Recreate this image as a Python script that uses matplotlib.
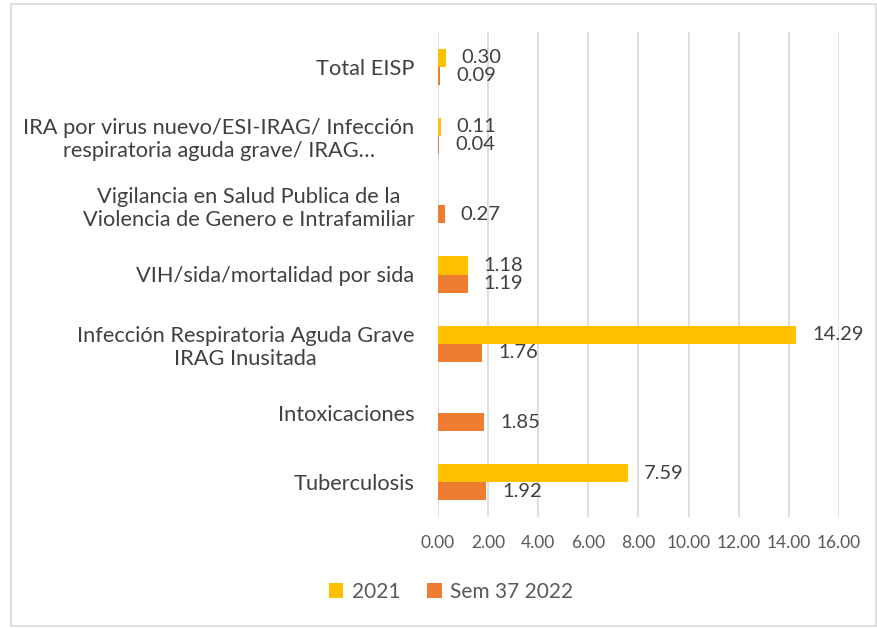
import numpy as np
import matplotlib
matplotlib.use("Agg")
import matplotlib.pyplot as plt
from matplotlib.patches import Rectangle

plt.rcParams['font.family'] = ['Lato', 'DejaVu Sans']

categories = [
    "Tuberculosis",
    "Intoxicaciones",
    "Infección Respiratoria Aguda Grave\nIRAG Inusitada",
    "VIH/sida/mortalidad por sida",
    "Vigilancia en Salud Publica de la\nViolencia de Genero e Intrafamiliar",
    "IRA por virus nuevo/ESI-IRAG/ Infección\nrespiratoria aguda grave/ IRAG…",
    "Total EISP",
]
series_names = ["2021", "Sem 37 2022"]
values_2021 = [7.59, np.nan, 14.29, 1.18, np.nan, 0.11, 0.30]
values_2022 = [1.92, 1.85, 1.76, 1.19, 0.27, 0.04, 0.09]
xticks = [0, 2, 4, 6, 8, 10, 12, 14, 16]

c2021 = "#FFC000"
c2022 = "#ED7D31"
txt = "#595959"

fig = plt.figure(figsize=(8.78, 6.28), dpi=100)
ax = fig.add_axes([438/878, 1-517/628, (839-438)/878, (517-32)/628])

y = np.arange(len(categories))
h = 0.26
ax.barh(y + h/2, values_2021, height=h, color=c2021, label=series_names[0], zorder=3)
ax.barh(y - h/2, values_2022, height=h, color=c2022, label=series_names[1], zorder=3)

for vals, off in ((values_2021, h/2), (values_2022, -h/2)):
    for yi, v in zip(y, vals):
        if np.isnan(v):
            continue
        ax.annotate(f"{v:.2f}", xy=(v, yi + off), xytext=(16, 0), textcoords="offset pixels",
                    ha="left", va="center", fontsize=14.5, color="#404040")

ax.set_xlim(0, 16)
ax.set_ylim(-0.5, len(categories) - 0.5)
ax.set_xticks(xticks)
ax.set_xticklabels([f"{t:.2f}" for t in xticks], fontsize=12.5, color=txt)
ax.set_yticks(y)
ax.set_yticklabels(categories, fontsize=15.7, color="#404040", multialignment="center")
ax.tick_params(axis="both", length=0)
ax.tick_params(axis="x", pad=13)
ax.tick_params(axis="y", pad=17)
ax.grid(axis="x", color="#D9D9D9", linewidth=1.2, zorder=0)
for s in ax.spines.values():
    s.set_visible(False)

leg = fig.legend(loc="center", bbox_to_anchor=(451/878, 1-592/628), ncol=2, frameon=False,
                 fontsize=15, handlelength=0.7, handleheight=0.7, columnspacing=1.3, handletextpad=0.4)
for t in leg.get_texts():
    t.set_color(txt)

fig.patches.append(Rectangle((11/878, 2/628), (876-11)/878, (626-4)/628, transform=fig.transFigure,
                             fill=False, edgecolor="#D9D9D9", linewidth=1.2))

fig.savefig("out.png", dpi=100, facecolor="white")
